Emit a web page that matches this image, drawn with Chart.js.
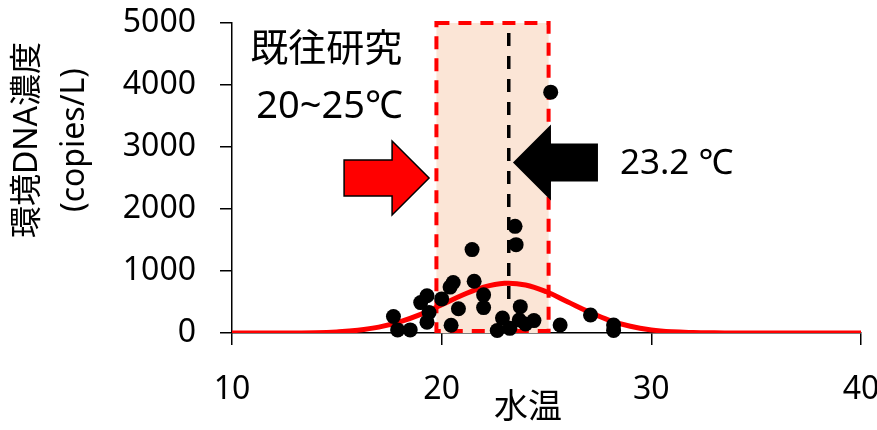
<!DOCTYPE html>
<html>
<head>
<meta charset="utf-8">
<script src="https://cdn.jsdelivr.net/npm/chart.js@4"></script>
<style>
  body { margin: 0; background: #fff; }
</style>
</head>
<body>
<canvas id="edna-chart" width="877" height="430"></canvas>
<script>
// samples: water temperature (°C) vs eDNA concentration (copies/L)
const waterTemp = [17.7, 17.9, 18.5, 19.0, 19.3, 19.4, 19.3, 20.0, 20.4, 20.55, 20.45, 20.8, 21.45, 21.55, 22.0, 22.0, 22.65, 22.9, 23.25, 23.5, 23.55, 23.75, 23.7, 24.0, 24.4, 25.2, 25.65, 27.1, 28.2, 28.2]
const ednaConc = [265, 50, 50, 490, 600, 330, 175, 550, 740, 815, 125, 390, 1345, 835, 615, 410, 40, 240, 75, 1720, 1425, 425, 210, 145, 200, 3885, 130, 290, 130, 40]

// fitted curve
const curveTemp = [10, 11, 12, 13, 14, 15, 16, 17, 18, 19, 20, 21, 22, 23, 24, 25, 26, 27, 28, 29, 30, 31, 32, 33, 34, 35, 36, 37, 38, 39, 40]
const curveConc = [0, 0, 0, 1, 4, 18, 45, 95, 180, 300, 455, 612, 740, 802, 775, 665, 505, 345, 205, 108, 50, 20, 8, 3, 1, 0, 0, 0, 0, 0, 0]

// 既往研究 range and the peak temperature
const rangeLow = 19.75
const rangeHigh = 25.1
const peakTemp = 23.2

const xTicks = [10, 20, 30, 40]
const yTicks = [0, 1000, 2000, 3000, 4000, 5000]

const xTitle = '水温'
const yTitle = ['環境DNA濃度', '(copies/L)']
const rangeLabel = ['既往研究', '20~25℃']
const peakLabel = '23.2 ℃'

const FONT = '"Noto Sans", "Noto Sans CJK JP", sans-serif'

function arrow(ctx, tx, ty, dir, headLen, headHalf, bodyLen, bodyHalf) {
    // dir = 1 points right, -1 points left
    ctx.beginPath()
    ctx.moveTo(tx, ty)
    ctx.lineTo(tx - dir * headLen, ty - headHalf)
    ctx.lineTo(tx - dir * headLen, ty - bodyHalf)
    ctx.lineTo(tx - dir * (headLen + bodyLen), ty - bodyHalf)
    ctx.lineTo(tx - dir * (headLen + bodyLen), ty + bodyHalf)
    ctx.lineTo(tx - dir * headLen, ty + bodyHalf)
    ctx.lineTo(tx - dir * headLen, ty + headHalf)
    ctx.closePath()
}

const overlay = {
    id: 'overlay',
    beforeDatasetsDraw(chart) {
        const {ctx, scales: {x, y}} = chart
        const l = x.getPixelForValue(rangeLow), r = x.getPixelForValue(rangeHigh)
        const t = y.getPixelForValue(5000), b = y.getPixelForValue(0)
        ctx.save()
        ctx.fillStyle = '#FBE5D6'
        ctx.fillRect(l, t, r - l, b - t)
        ctx.strokeStyle = '#FF0000'
        ctx.lineWidth = 4
        ctx.setLineDash([13, 9])
        ctx.strokeRect(l, t, r - l, b - t - 2)

        const px = x.getPixelForValue(peakTemp)
        ctx.strokeStyle = '#000'
        ctx.lineWidth = 3.5
        ctx.setLineDash([13, 10])
        ctx.beginPath()
        ctx.moveTo(px, t + 10)
        ctx.lineTo(px, y.getPixelForValue(450))
        ctx.stroke()
        ctx.restore()
    },
    afterDatasetsDraw(chart) {
        const {ctx, scales: {x, y}, chartArea} = chart
        ctx.save()
        ctx.lineWidth = 1.5
        ctx.strokeStyle = '#000'

        // red arrow -> range box
        arrow(ctx, x.getPixelForValue(19.4), y.getPixelForValue(2500), 1, 37, 37, 48, 18)
        ctx.fillStyle = '#FF0000'
        ctx.fill()
        ctx.stroke()

        // black arrow -> peak
        arrow(ctx, x.getPixelForValue(23.4), y.getPixelForValue(2750), -1, 38, 38, 47, 19)
        ctx.fillStyle = '#000'
        ctx.fill()

        ctx.fillStyle = '#000'
        ctx.textBaseline = 'middle'
        ctx.textAlign = 'center'
        ctx.font = '38px ' + FONT
        ctx.fillText(rangeLabel[0], x.getPixelForValue(14.5), y.getPixelForValue(4560))
        ctx.fillText(rangeLabel[1], x.getPixelForValue(14.65), y.getPixelForValue(3640))

        ctx.textAlign = 'left'
        ctx.font = '35px ' + FONT
        ctx.fillText(peakLabel, x.getPixelForValue(28.5), y.getPixelForValue(2720))

        // axis titles
        ctx.textAlign = 'center'
        ctx.font = '34px ' + FONT
        ctx.fillText(xTitle, chartArea.left + 296, 408)

        ctx.translate(0, 140)
        ctx.rotate(-Math.PI / 2)
        ctx.font = '32px ' + FONT
        ctx.fillText(yTitle[0], 0, 28)
        ctx.fillText(yTitle[1], 0, 75)
        ctx.restore()
    }
}

new Chart(document.querySelector('#edna-chart'), {
    type: 'scatter',
    data: {
        datasets: [
            {
                data: waterTemp.map((t, i) => ({x: t, y: ednaConc[i]})),
                backgroundColor: '#000',
                borderWidth: 0,
                pointRadius: 7.5,
                clip: false,
                order: 0
            },
            {
                type: 'line',
                data: curveTemp.map((t, i) => ({x: t, y: curveConc[i]})),
                borderColor: '#FF0000',
                borderWidth: 5,
                pointRadius: 0,
                tension: 0.4,
                fill: false,
                order: 1
            }
        ]
    },
    options: {
        responsive: false,
        animation: false,
        layout: { padding: { top: 23, right: 16, left: 0, bottom: 0 } },
        plugins: { legend: { display: false }, tooltip: { enabled: false } },
        scales: {
            x: {
                type: 'linear',
                min: 10,
                max: 40,
                afterBuildTicks: s => { s.ticks = xTicks.map(v => ({value: v})) },
                afterFit: s => { s.height = 97; s.paddingLeft = 0; s.paddingRight = 0 },
                grid: { drawOnChartArea: false, drawTicks: true, tickLength: 12, color: '#000', lineWidth: 1.5 },
                border: { display: true, color: '#000', width: 1.5 },
                ticks: { color: '#000', padding: 26, maxRotation: 0, font: { size: 32, family: FONT }, callback: v => String(v) }
            },
            y: {
                min: 0,
                max: 5000,
                afterBuildTicks: s => { s.ticks = yTicks.map(v => ({value: v})) },
                afterFit: s => { s.width = 232; s.paddingTop = 0; s.paddingBottom = 0 },
                grid: { drawOnChartArea: false, drawTicks: true, tickLength: 12, color: '#000', lineWidth: 1.5 },
                border: { display: true, color: '#000', width: 1.5 },
                ticks: { color: '#000', padding: 24, font: { size: 32, family: FONT }, callback: v => String(v) }
            }
        }
    },
    plugins: [overlay]
})
</script>
</body>
</html>
